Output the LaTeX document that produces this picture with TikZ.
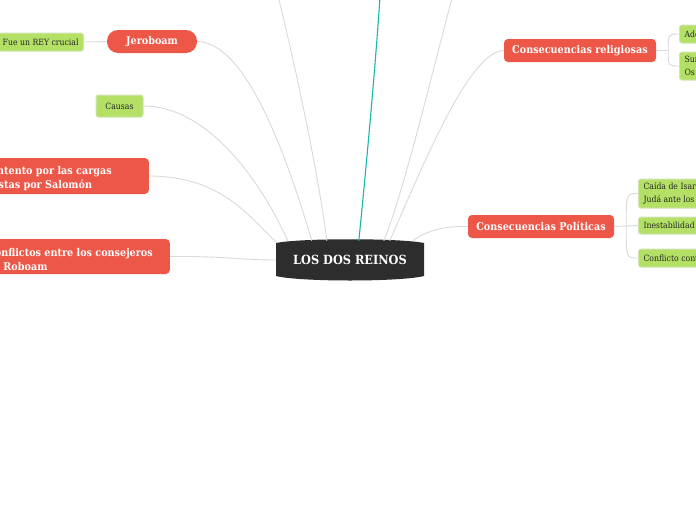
\documentclass[tikz,border=0pt]{standalone}
\usepackage{fontspec}
\setmainfont{DejaVu Serif Condensed}
\usetikzlibrary{calc}
\definecolor{redn}{RGB}{236,87,72}
\definecolor{greenn}{RGB}{179,224,101}
\definecolor{greenb}{RGB}{210,228,180}
\definecolor{linec}{RGB}{218,218,218}
\definecolor{tealc}{RGB}{22,184,172}
\definecolor{darkn}{RGB}{45,45,45}
\tikzset{
  redbox/.style={fill=redn, rounded corners=4pt, draw=none},
  redtxt/.style={text=white, font=\fontsize{10.7}{13.5}\selectfont\bfseries},
  greenbox/.style={fill=greenn, draw=greenb, line width=1pt, rounded corners=2.5pt,
    font=\fontsize{8.6}{12.5}\selectfont, text=black!85, inner xsep=5pt, inner ysep=0pt},
  conn/.style={draw=linec, line width=0.9pt},
  tealconn/.style={draw=tealc, line width=1.1pt},
}
\begin{document}
\begin{tikzpicture}[x=1pt,y=-1pt]
\useasboundingbox (0,0) rectangle (696,520);
\clip (0,0) rectangle (696,520);
\fill[white] (0,0) rectangle (696,520);

% left side
\node[greenbox, anchor=east, minimum height=18pt] (fue) at (84,42) {Fue un REY crucial};
\node[redbox, redtxt, rounded corners=11pt, minimum width=90pt, minimum height=23pt] (jer) at (152,41.5) {Jeroboam};
\node[greenbox, minimum width=47pt, minimum height=22pt] (causas) at (119.5,106) {Causas};
\node[redbox, minimum width=260pt, minimum height=36pt, anchor=east] (desc) at (149,176) {};
\node[redtxt, anchor=east, align=left, inner sep=0pt] (desct) at (112,178.5) {Descontento por las cargas\\impuestas por Salomón};
\node[redbox, minimum width=280pt, minimum height=35pt, anchor=east] (conf) at (170,256.5) {};
\node[redtxt, anchor=east, align=left, inner sep=0pt] (conft) at (153,259.5) {Conflictos entre los consejeros\\de Roboam};

% central
\fill[darkn] (276,243) .. controls (300,238) and (400,238) .. (424,243) -- (424,276)
  .. controls (400,282) and (300,282) .. (276,276) -- cycle;
\node[text=white, font=\fontsize{12.6}{15}\selectfont\bfseries, minimum width=148pt, minimum height=38pt] (root) at (350,260) {LOS DOS REINOS};

% right side
\node[redbox, redtxt, minimum width=152pt, minimum height=23pt] (rel) at (580,50.5) {Consecuencias religiosas};
\node[greenbox, anchor=west, minimum height=18pt] (ado) at (679,34) {Ado};
\node[greenbox, anchor=west, align=left, minimum height=28pt] (sum) at (679,66) {Sum\\Os};
\node[redbox, redtxt, minimum width=146pt, minimum height=23pt] (pol) at (541,226.5) {Consecuencias Políticas};
\node[greenbox, anchor=west, align=left, minimum height=29pt] (caida) at (638,193.5) {Caída de Isarel y\\Judá ante los};
\node[greenbox, anchor=west, minimum height=17pt] (inest) at (638,225.5) {Inestabilidad};
\node[greenbox, anchor=west, minimum height=18pt] (conf2) at (638,258) {Conflicto continuo};

% off-canvas ends
\coordinate (up1) at (274,-20);
\coordinate (up2) at (381,-20);
\coordinate (up3) at (457,-20);
\coordinate (rb) at ([xshift=12pt]rel.east);
\coordinate (pb) at ([xshift=12pt]pol.east);

% connectors
\draw[conn] (fue.east) -- (jer.west);
\draw[conn] (jer.east) .. controls (245,42) and (285,150) .. ([xshift=36pt]root.north west);
\draw[conn] (causas.east) .. controls (205,106) and (258,175) .. ([xshift=12pt]root.north west);
\draw[conn] (desc.east) .. controls (220,176) and (248,215) .. ([xshift=1pt,yshift=-2pt]root.north west);
\draw[conn] (conf.east) .. controls (225,256) and (240,260) .. (root.west);
\draw[conn] ([xshift=51pt]root.north west) .. controls (318,170) and (292,50) .. (up1);
\draw[tealconn] ([xshift=83pt]root.north west) .. controls (366,170) and (377,50) .. (up2);
\draw[conn] ([xshift=108pt]root.north west) .. controls (405,190) and (440,40) .. (up3);
\draw[conn] (rel.west) .. controls (470,51) and (425,160) .. ([xshift=114pt]root.north west);
\draw[conn] (pol.west) .. controls (440,226) and (425,232) .. ([xshift=137pt]root.north west);

\draw[conn] (rel.east) -- (rb);
\draw[conn] (rb) .. controls (rb |- ado.west) .. (ado.west);
\draw[conn] (rb) .. controls (rb |- sum.west) .. (sum.west);
\draw[conn] (pol.east) -- (inest.west);
\draw[conn] (pb) .. controls (pb |- caida.west) .. (caida.west);
\draw[conn] (pb) .. controls (pb |- conf2.west) .. (conf2.west);
\end{tikzpicture}
\end{document}
